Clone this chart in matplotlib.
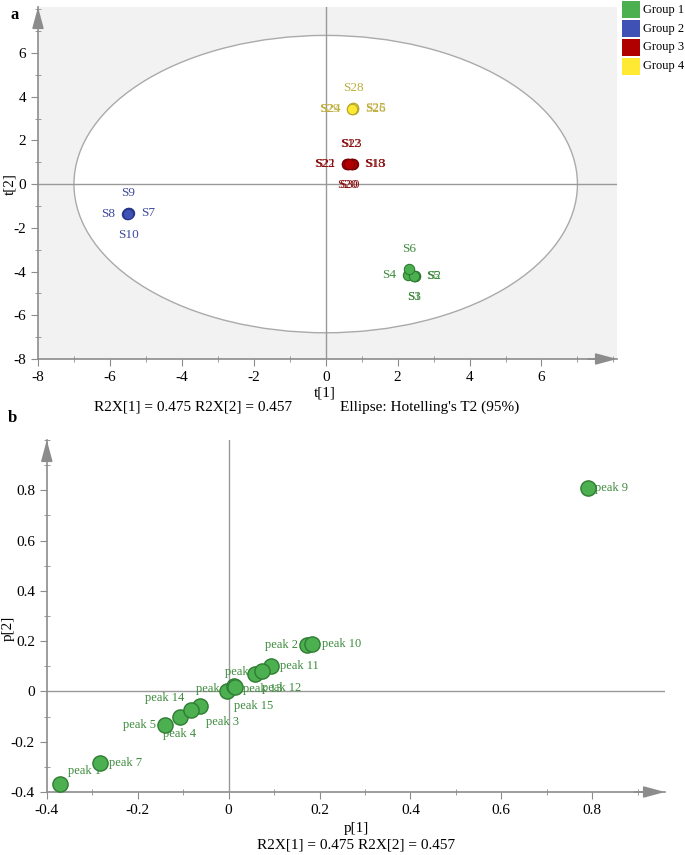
import numpy as np
import matplotlib.pyplot as plt
from matplotlib.patches import Ellipse, Rectangle
from matplotlib.ticker import MultipleLocator

plt.rcParams['font.family'] = ['Liberation Serif', 'DejaVu Serif']

# ---- score plot data (panel a)
samples = ['S1', 'S2', 'S3', 'S4', 'S5', 'S6',
           'S7', 'S8', 'S9', 'S10',
           'S12', 'S13', 'S18', 'S20', 'S21', 'S22', 'S23', 'S30',
           'S24', 'S25', 'S26', 'S28', 'S29']
t1 = [2.47, 2.48, 2.45, 2.28, 2.46, 2.33,
      -5.48, -5.52, -5.50, -5.49,
      0.70, 0.75, 0.74, 0.60, 0.62, 0.58, 0.72, 0.66,
      0.74, 0.76, 0.75, 0.76, 0.73]
t2 = [-4.22, -4.20, -4.22, -4.17, -4.19, -3.90,
      -1.33, -1.35, -1.30, -1.36,
      0.93, 0.92, 0.90, 0.90, 0.92, 0.90, 0.91, 0.90,
      3.45, 3.46, 3.44, 3.47, 3.45]
groups = [1, 1, 1, 1, 1, 1,
          2, 2, 2, 2,
          3, 3, 3, 3, 3, 3, 3, 3,
          4, 4, 4, 4, 4]
group_names = ['Group 1', 'Group 2', 'Group 3', 'Group 4']
t1_limit = 7.0   # Hotelling T2 (95%) ellipse half-axes
t2_limit = 6.8
r2x_text = 'R2X[1] = 0.475 R2X[2] = 0.457'

# ---- loading plot data (panel b)
peaks = ['peak %d' % i for i in range(1, 16)]
p1 = [-0.371, 0.172, -0.062, -0.107, -0.139, 0.059, -0.283, -0.003,
      0.790, 0.183, 0.094, 0.074, 0.011, -0.082, 0.013]
p2 = [-0.368, 0.184, -0.057, -0.101, -0.133, 0.069, -0.284, 0.003,
      0.810, 0.189, 0.103, 0.083, 0.020, -0.075, 0.018]

# styles
face = {1: '#4caf50', 2: '#3f51b5', 3: '#b00000', 4: '#ffe933'}
edge = {1: '#2e7d32', 2: '#27358c', 3: '#7a0000', 4: '#b8a630'}
txtc = {1: '#3d8b3d', 2: '#3c4a9c', 3: '#8b1010', 4: '#bfae3f'}
side = {'S1': 'below', 'S2': 'right', 'S3': 'below', 'S4': 'left', 'S5': 'right', 'S6': 'above',
        'S7': 'right', 'S8': 'left', 'S9': 'above', 'S10': 'below',
        'S12': 'above', 'S13': 'right', 'S18': 'right', 'S20': 'below', 'S21': 'left',
        'S22': 'left', 'S23': 'above', 'S30': 'below',
        'S24': 'left', 'S25': 'right', 'S26': 'right', 'S28': 'above', 'S29': 'left'}
side_off = {'above': ((0, 20), 'center'), 'below': ((0, -21), 'center'),
            'left': ((-12, 0), 'right'), 'right': ((12, 0), 'left')}
# peak label offsets in pixels and alignment
peak_off = {'peak 1': (8, 13, 'left'), 'peak 2': (-9, 0, 'right'), 'peak 3': (6, -16, 'left'),
            'peak 4': (0, -17, 'center'), 'peak 5': (-9, 0, 'right'), 'peak 6': (3, 2, 'right'),
            'peak 7': (9, 0, 'left'), 'peak 8': (2, 2, 'right'), 'peak 9': (7, 0, 'left'),
            'peak 10': (10, 0, 'left'), 'peak 11': (9, 0, 'left'), 'peak 12': (0, -17, 'left'),
            'peak 13': (9, -3, 'left'), 'peak 14': (-7, 12, 'right'), 'peak 15': (-1, -19, 'left')}

axcol = '#8c8c8c'
W, H = 685, 855


def style_axes(ax):
    for s in ['top', 'right']:
        ax.spines[s].set_visible(False)
    for s in ['left', 'bottom']:
        ax.spines[s].set_color(axcol)
        ax.spines[s].set_linewidth(1.2)
    ax.tick_params(which='major', direction='out', length=5, color=axcol, labelsize=11)
    ax.tick_params(which='minor', direction='inout', length=4, color=axcol)
    ax.axhline(0, color='#999999', lw=1, zorder=1)
    ax.axvline(0, color='#999999', lw=1, zorder=1)
    ap = dict(arrowstyle='-|>,head_length=1.3,head_width=0.35', color=axcol, lw=1.2,
              shrinkA=0, shrinkB=0)
    ax.annotate('', xy=(1.0, 0), xytext=(0.95, 0), xycoords='axes fraction', arrowprops=ap,
                annotation_clip=False)
    ax.annotate('', xy=(0, 1.0), xytext=(0, 0.95), xycoords='axes fraction', arrowprops=ap,
                annotation_clip=False)


fig = plt.figure(figsize=(W / 100, H / 100), dpi=100)

# ---------------- panel a
ax = fig.add_axes([38 / W, 1 - 359 / H, (617 - 38) / W, (359 - 7) / H])
ax.set_facecolor('#f2f2f2')
ax.set_xlim(-8, 8.1)
ax.set_ylim(-8, 8.1)
ax.add_patch(Ellipse((0, 0), 2 * t1_limit, 2 * t2_limit, facecolor='white',
                     edgecolor='#aaaaaa', lw=1, zorder=0.5))
style_axes(ax)
ax.xaxis.set_minor_locator(MultipleLocator(1))
ax.yaxis.set_minor_locator(MultipleLocator(1))
ax.set_xticks([-8, -6, -4, -2, 0, 2, 4, 6])
ax.set_xticklabels(['-8', '-6', '-4', '-2', '0', '2', '4', '6'])
ax.set_yticks([-8, -6, -4, -2, 0, 2, 4, 6])
ax.set_yticklabels(['-8', '-6', '-4', '-2', '0', '2', '4', '6'])

for name, x, y, g in zip(samples, t1, t2, groups):
    ax.scatter(x, y, s=55, color=face[g], edgecolors=edge[g], linewidths=0.8, zorder=4)
    (dx, dy), ha = side_off[side[name]]
    ax.annotate(name, (x, y), xytext=(dx, dy), textcoords='offset pixels', ha=ha,
                va='center', fontsize=9.5, color=txtc[g], zorder=3)

fig.text(325 / W, 1 - 393 / H, 't[1]', ha='center', va='center', fontsize=11)
fig.text(10 / W, 1 - 184 / H, 't[2]', ha='center', va='center', fontsize=11, rotation=90)
fig.text(193 / W, 1 - 407 / H, r2x_text, ha='center', va='center', fontsize=11)
fig.text(430 / W, 1 - 407 / H, "Ellipse: Hotelling's T2 (95%)", ha='center', va='center',
         fontsize=11)
fig.text(15 / W, 1 - 15 / H, 'a', ha='center', va='center', fontsize=12, fontweight='bold')

# legend
for i, gname in enumerate(group_names):
    yc = 10 + i * 18.7
    fig.patches.append(Rectangle((622 / W, 1 - (yc + 8.5) / H), 18 / W, 17 / H,
                                 transform=fig.transFigure, facecolor=face[i + 1],
                                 edgecolor='none'))
    fig.text(643 / W, 1 - yc / H, gname, ha='left', va='center', fontsize=9)

# ---------------- panel b
bx = fig.add_axes([46.8 / W, 1 - 792 / H, (665 - 46.8) / W, (792 - 440) / H])
bx.set_xlim(-0.4, 0.96)
bx.set_ylim(-0.4, 1.0)
style_axes(bx)
bx.set_xticks([-0.4, -0.2, 0, 0.2, 0.4, 0.6, 0.8])
bx.set_xticklabels(['-0.4', '-0.2', '0', '0.2', '0.4', '0.6', '0.8'])
bx.set_yticks([-0.4, -0.2, 0, 0.2, 0.4, 0.6, 0.8])
bx.set_yticklabels(['-0.4', '-0.2', '0', '0.2', '0.4', '0.6', '0.8'])
bx.xaxis.set_minor_locator(MultipleLocator(0.1))
bx.yaxis.set_minor_locator(MultipleLocator(0.1))

bx.scatter(p1, p2, s=120, color='#4caf50', edgecolors='#2e7d32', linewidths=1, zorder=4)
for name, x, y in zip(peaks, p1, p2):
    dx, dy, ha = peak_off[name]
    bx.annotate(name, (x, y), xytext=(dx, dy), textcoords='offset pixels', ha=ha,
                va='center', fontsize=9, color='#3d8b3d', zorder=3)

fig.text(356 / W, 1 - 828 / H, 'p[1]', ha='center', va='center', fontsize=11)
fig.text(356 / W, 1 - 845 / H, r2x_text, ha='center', va='center', fontsize=11)
fig.text(8 / W, 1 - 628 / H, 'p[2]', ha='center', va='center', fontsize=11, rotation=90)
fig.text(12 / W, 1 - 418 / H, 'b', ha='center', va='center', fontsize=12, fontweight='bold')

fig.savefig('out.png', dpi=100)
